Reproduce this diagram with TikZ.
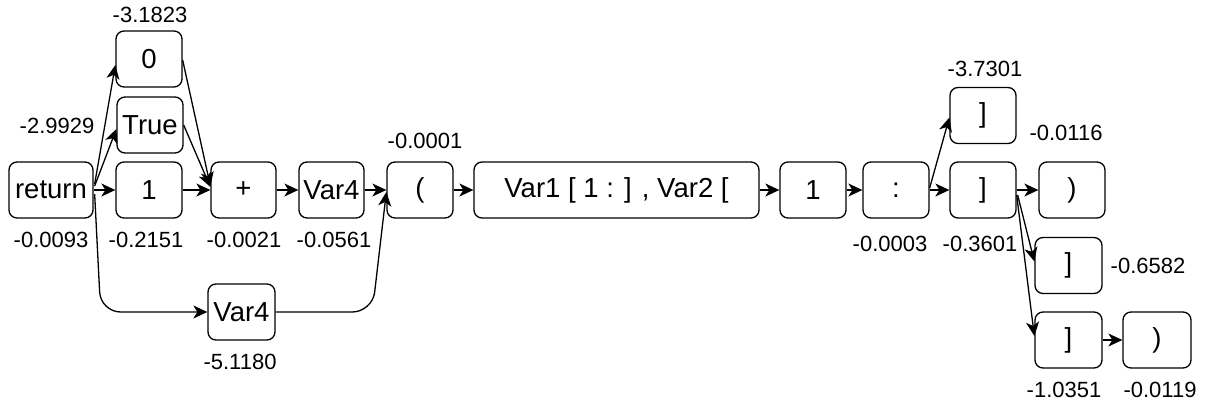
\documentclass[tikz,border=0pt]{standalone}
\usepackage{fontspec}
\setmainfont{Liberation Sans}
\usetikzlibrary{arrows.meta,calc}
\begin{document}
\begin{tikzpicture}[x=0.5pt,y=-0.5pt,
  box/.style={draw, rounded corners=4pt, line width=0.65pt, minimum height=28pt, inner sep=0pt, font=\fontsize{13.75}{16}\selectfont},
  bw/.style={minimum width={#1*0.5pt}},
  lbl/.style={font=\fontsize{11}{13}\selectfont, inner sep=0pt},
  arr/.style={-{Stealth[length=7pt,width=6.5pt,inset=2pt]}, line width=0.65pt}]
\useasboundingbox (0,0) rectangle (1206,412);
% nodes
\node[box,bw=84] (ret) at (51,190) {return};
\node[box,bw=66] (n0) at (149,59) {0};
\node[box,bw=66] (tru) at (150,125) {True};
\node[box,bw=66] (one) at (149,190) {1};
\node[box,bw=65] (plus) at (243.5,190) {+};
\node[box,bw=65] (v4) at (331.5,190) {Var4};
\node[box,bw=67] (v4b) at (241.5,312) {Var4};
\node[box,bw=66] (lp) at (420,190) {(};
\node[box,bw=285] (long) at (616.5,190) {Var1 [ 1 : ] , Var2 [};
\node[box,bw=66] (one2) at (813,190) {1};
\node[box,bw=66] (colon) at (896,190) {:};
\node[box,bw=66] (rb) at (983,190) {]};
\node[box,bw=66] (rbt) at (983,115.5) {]};
\node[box,bw=66] (rp) at (1072,190) {)};
\node[box,bw=67] (rbm) at (1068.5,265.5) {]};
\node[box,bw=67] (rbb) at (1068.5,340) {]};
\node[box,bw=68] (rpb) at (1157,340) {)};
% labels
\node[lbl] (l0) at (150,15) {-3.1823};
\node[lbl] (ltru) at (57,126) {-2.9929};
\node[lbl] (lret) at (51,240) {-0.0093};
\node[lbl] (lone) at (146,240) {-0.2151};
\node[lbl] (lplus) at (244,240) {-0.0021};
\node[lbl] (lv4) at (334,240) {-0.0561};
\node[lbl] (lv4b) at (240,362) {-5.1180};
\node[lbl] (llp) at (425,141) {-0.0001};
\node[lbl] (lrbt) at (985,69) {-3.7301};
\node[lbl] (lrp) at (1066,133) {-0.0116};
\node[lbl] (lcolon) at (890,244) {-0.0003};
\node[lbl] (lrb) at (980,244) {-0.3601};
\node[lbl] (lrbm) at (1148,266) {-0.6582};
\node[lbl] (lrbb) at (1064,390) {-1.0351};
\node[lbl] (lrpb) at (1160,390) {-0.0119};
% edges
\draw[arr] ($(ret.east)+(1,-6)$) -- ($(n0.west)+(0,6)$);
\draw[arr] ($(ret.east)+(1,-4)$) -- ($(tru.west)+(0,4)$);
\draw[arr] (ret.east) -- (one.west);
\draw[arr,rounded corners=10pt] ($(ret.east)+(1,4)$) -- ($(ret.east |- v4b.west)+(7,0)$) -- (v4b.west);
\draw[arr,rounded corners=10pt] (v4b.east) -- ($(lp.west |- v4b.east)+(-14,0)$) -- ($(lp.west)+(0,2)$);
\draw[arr] ($(n0.east)+(0,1)$) -- ($(plus.west)+(0,-4)$);
\draw[arr] (tru.east) -- ($(plus.west)+(0,-3)$);
\draw[arr] (one.east) -- (plus.west);
\draw[arr] (plus.east) -- (v4.west);
\draw[arr] (v4.east) -- (lp.west);
\draw[arr] (lp.east) -- (long.west);
\draw[arr] (long.east) -- (one2.west);
\draw[arr] (one2.east) -- (colon.west);
\draw[arr] (colon.east) -- (rb.west);
\draw[arr] ($(colon.east)+(0,-2)$) -- ($(rbt.west)+(0,2)$);
\draw[arr] (rb.east) -- (rp.west);
\draw[arr] ($(rb.east)+(1,5)$) -- ($(rbm.west)+(0,-4)$);
\draw[arr] ($(rb.east)+(0,5)$) -- ($(rbb.west)+(0,-4)$);
\draw[arr] (rbb.east) -- (rpb.west);
\end{tikzpicture}
\end{document}
